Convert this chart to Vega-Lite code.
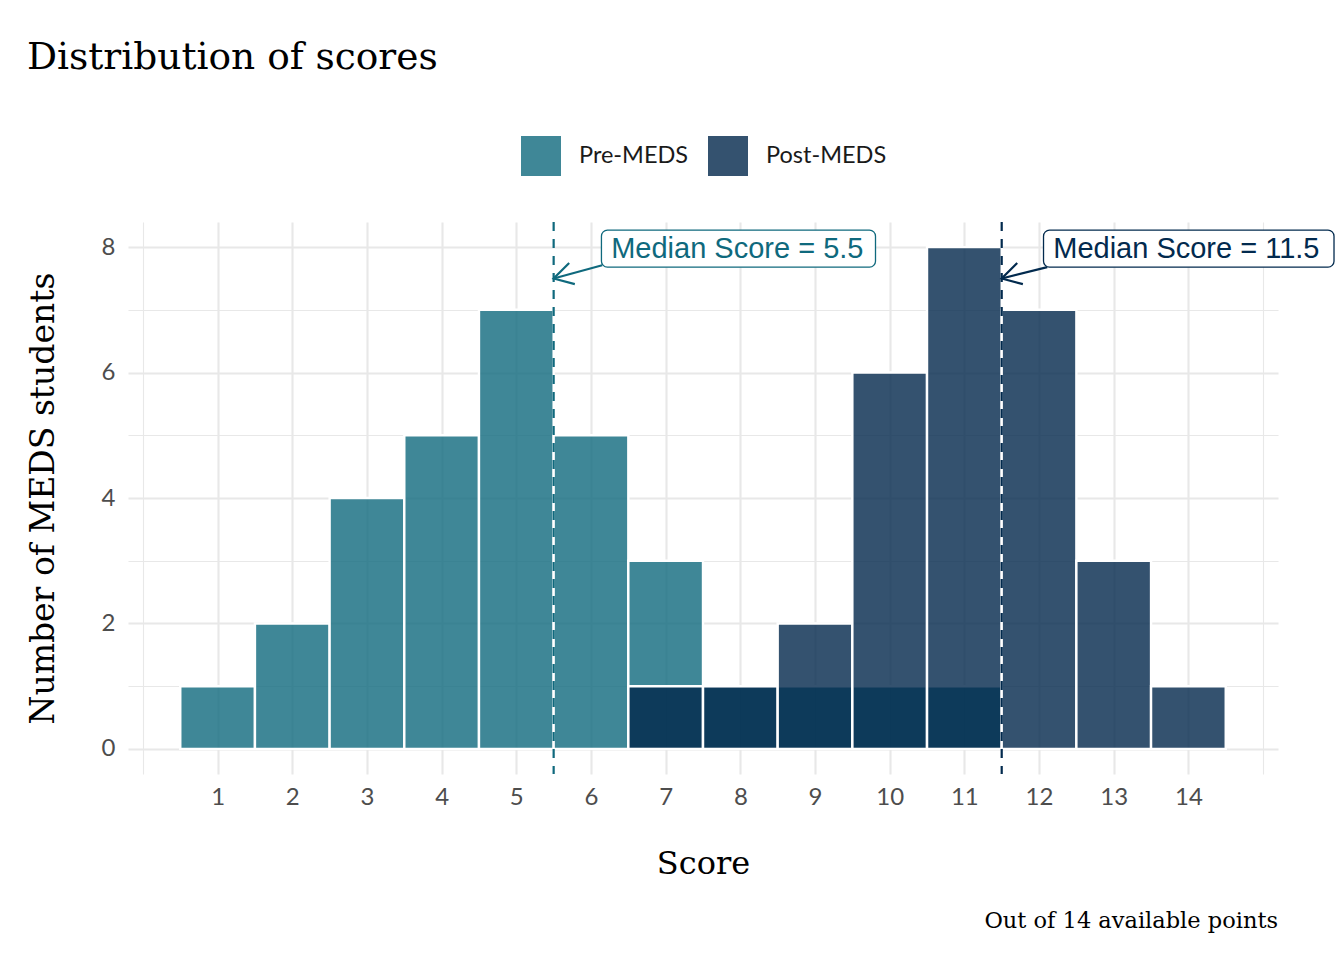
{
  "$schema": "https://vega.github.io/schema/vega-lite/v6.json",
  "autosize": {"type": "none"},
  "padding": {"left": 128, "top": 222, "right": 66, "bottom": 186},
  "width": 1150,
  "height": 552,
  "background": "white",
  "title": {
    "text": "Distribution of scores",
    "anchor": "start",
    "frame": "group",
    "dx": -101,
    "offset": 60,
    "font": "DejaVu Serif",
    "fontSize": 37.5,
    "fontWeight": "normal",
    "color": "black"
  },
  "datasets": {
    "scores": [
      {"group": "Pre-MEDS", "bin_start": 0.5, "bin_end": 1.5, "count": 1},
      {"group": "Pre-MEDS", "bin_start": 1.5, "bin_end": 2.5, "count": 2},
      {"group": "Pre-MEDS", "bin_start": 2.5, "bin_end": 3.5, "count": 4},
      {"group": "Pre-MEDS", "bin_start": 3.5, "bin_end": 4.5, "count": 5},
      {"group": "Pre-MEDS", "bin_start": 4.5, "bin_end": 5.5, "count": 7},
      {"group": "Pre-MEDS", "bin_start": 5.5, "bin_end": 6.5, "count": 5},
      {"group": "Pre-MEDS", "bin_start": 6.5, "bin_end": 7.5, "count": 3},
      {"group": "Pre-MEDS", "bin_start": 7.5, "bin_end": 8.5, "count": 1},
      {"group": "Pre-MEDS", "bin_start": 8.5, "bin_end": 9.5, "count": 1},
      {"group": "Pre-MEDS", "bin_start": 9.5, "bin_end": 10.5, "count": 1},
      {"group": "Pre-MEDS", "bin_start": 10.5, "bin_end": 11.5, "count": 1},
      {"group": "Post-MEDS", "bin_start": 6.5, "bin_end": 7.5, "count": 1},
      {"group": "Post-MEDS", "bin_start": 7.5, "bin_end": 8.5, "count": 1},
      {"group": "Post-MEDS", "bin_start": 8.5, "bin_end": 9.5, "count": 2},
      {"group": "Post-MEDS", "bin_start": 9.5, "bin_end": 10.5, "count": 6},
      {"group": "Post-MEDS", "bin_start": 10.5, "bin_end": 11.5, "count": 8},
      {"group": "Post-MEDS", "bin_start": 11.5, "bin_end": 12.5, "count": 7},
      {"group": "Post-MEDS", "bin_start": 12.5, "bin_end": 13.5, "count": 3},
      {"group": "Post-MEDS", "bin_start": 13.5, "bin_end": 14.5, "count": 1}
    ],
    "medians": [
      {"group": "Pre-MEDS", "median": 5.5, "label": "Median Score = 5.5",
       "box_x": 6.14, "box_x2": 9.81, "box_y": 7.68, "box_y2": 8.27,
       "text_x": 6.27, "text_y": 7.97, "arrow_x": 6.15, "arrow_y": 7.71, "tip_y": 7.5},
      {"group": "Post-MEDS", "median": 11.5, "label": "Median Score = 11.5",
       "box_x": 12.06, "box_x2": 15.95, "box_y": 7.68, "box_y2": 8.27,
       "text_x": 12.19, "text_y": 7.97, "arrow_x": 12.11, "arrow_y": 7.68, "tip_y": 7.5}
    ],
    "notes": [
      {"note": "Out of 14 available points", "x": 15.2, "y": -2.74}
    ]
  },
  "layer": [
    {
      "data": {"name": "scores"},
      "mark": {"type": "bar", "fillOpacity": 0.8, "stroke": "white", "strokeWidth": 2.4},
      "encoding": {
        "x": {
          "field": "bin_start", "type": "quantitative", "title": "Score",
          "scale": {"domain": [-0.2, 15.2], "nice": false, "zero": false},
          "axis": {
            "values": [0, 0.5, 1, 1.5, 2, 2.5, 3, 3.5, 4, 4.5, 5, 5.5, 6, 6.5, 7, 7.5, 8, 8.5, 9, 9.5, 10, 10.5, 11, 11.5, 12, 12.5, 13, 13.5, 14, 14.5, 15],
            "format": "d",
            "labelExpr": "datum.value >= 1 && datum.value <= 14 && datum.value % 1 === 0 ? datum.label : ''",
            "labelOverlap": false, "labelFlush": false, "labelBound": false,
            "domain": false, "ticks": false, "grid": true, "gridColor": "#e8e8e8",
            "gridWidth": {"condition": {"test": "datum.value < 1 || datum.value > 14 || datum.value % 1 !== 0", "value": 1.1}, "value": 2.1},
            "labelFont": "Lato", "labelFontSize": 24, "labelColor": "#4d4d4d", "labelPadding": 11,
            "titleFont": "DejaVu Serif", "titleFontSize": 32, "titleFontWeight": "normal", "titleColor": "black", "titlePadding": 39
          }
        },
        "x2": {"field": "bin_end"},
        "y": {
          "field": "count", "type": "quantitative", "stack": null, "title": "Number of MEDS students",
          "scale": {"domain": [-0.4, 8.4], "nice": false, "zero": false},
          "axis": {
            "values": [0, 1, 2, 3, 4, 5, 6, 7, 8],
            "format": "d",
            "labelExpr": "datum.value % 2 === 0 ? datum.label : ''",
            "labelOverlap": false, "labelFlush": false, "labelBound": false,
            "domain": false, "ticks": false, "grid": true, "gridColor": "#e8e8e8",
            "gridWidth": {"condition": {"test": "datum.value % 2 === 1", "value": 1.1}, "value": 2.1},
            "labelFont": "Lato", "labelFontSize": 24, "labelColor": "#4d4d4d", "labelPadding": 13,
            "titleFont": "DejaVu Serif", "titleFontSize": 33, "titleFontWeight": "normal", "titleColor": "black", "titlePadding": 41
          }
        },
        "y2": {"datum": 0},
        "color": {
          "field": "group", "type": "nominal",
          "scale": {"domain": ["Pre-MEDS", "Post-MEDS"], "range": ["#0f697d", "#01274b"]},
          "legend": {
            "orient": "none", "legendX": 393, "legendY": -86, "direction": "horizontal",
            "title": null, "symbolType": "square", "symbolSize": 1600, "symbolOpacity": 0.8,
            "symbolStrokeWidth": 0, "labelFont": "Lato", "labelFontSize": 23.5, "labelColor": "#1a1a1a",
            "labelOffset": 18, "columnPadding": 19, "padding": 0
          }
        }
      }
    },
    {
      "data": {"name": "medians"},
      "mark": {"type": "rule", "strokeWidth": 2.2, "strokeDash": [9, 8]},
      "encoding": {
        "x": {"field": "median", "type": "quantitative"},
        "stroke": {"field": "group", "type": "nominal", "scale": {"domain": ["Pre-MEDS", "Post-MEDS"], "range": ["#0f697d", "#022a4e"]}, "legend": null}
      }
    },
    {
      "data": {"name": "medians"},
      "mark": {"type": "rule", "strokeWidth": 2.2},
      "encoding": {
        "x": {"field": "arrow_x", "type": "quantitative"},
        "x2": {"field": "median"},
        "y": {"field": "arrow_y", "type": "quantitative"},
        "y2": {"field": "tip_y"},
        "stroke": {"field": "group", "type": "nominal", "legend": null}
      }
    },
    {
      "data": {"name": "medians"},
      "mark": {"type": "point", "shape": "M1,-0.577L0,0L1,0.577", "filled": false, "size": 1444, "angle": -15, "strokeWidth": 2.2, "opacity": 1},
      "encoding": {
        "x": {"field": "median", "type": "quantitative"},
        "y": {"field": "tip_y", "type": "quantitative"},
        "stroke": {"field": "group", "type": "nominal", "legend": null}
      }
    },
    {
      "data": {"name": "medians"},
      "mark": {"type": "rect", "fill": "white", "strokeWidth": 1.3, "cornerRadius": 6},
      "encoding": {
        "x": {"field": "box_x", "type": "quantitative"},
        "x2": {"field": "box_x2"},
        "y": {"field": "box_y", "type": "quantitative"},
        "y2": {"field": "box_y2"},
        "stroke": {"field": "group", "type": "nominal", "legend": null}
      }
    },
    {
      "data": {"name": "medians"},
      "mark": {"type": "text", "align": "left", "baseline": "middle", "font": "Liberation Sans", "fontSize": 29},
      "encoding": {
        "x": {"field": "text_x", "type": "quantitative"},
        "y": {"field": "text_y", "type": "quantitative"},
        "text": {"field": "label"},
        "fill": {"field": "group", "type": "nominal", "scale": {"domain": ["Pre-MEDS", "Post-MEDS"], "range": ["#0f697d", "#022a4e"]}, "legend": null}
      }
    },
    {
      "data": {"name": "notes"},
      "mark": {"type": "text", "align": "right", "baseline": "middle", "font": "DejaVu Serif", "fontSize": 22.5, "color": "black"},
      "encoding": {
        "x": {"field": "x", "type": "quantitative"},
        "y": {"field": "y", "type": "quantitative"},
        "text": {"field": "note"}
      }
    }
  ],
  "config": {
    "view": {"stroke": null}
  }
}
